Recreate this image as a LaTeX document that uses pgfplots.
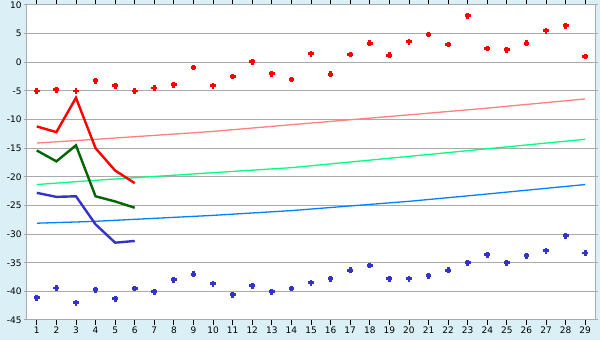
\documentclass[border=0pt]{standalone}
\usepackage{pgfplots}
\pgfplotsset{compat=1.18}
\usepackage{fontspec}
\setmainfont{DejaVu Sans}
\definecolor{bgc}{RGB}{218,240,246}
\definecolor{gridc}{RGB}{170,170,170}
\definecolor{redc}{RGB}{255,0,0}
\definecolor{dgreen}{RGB}{0,102,0}
\definecolor{bluec}{RGB}{51,51,204}
\definecolor{pinkc}{RGB}{255,128,128}
\definecolor{sgreen}{RGB}{0,255,128}
\definecolor{lblue}{RGB}{0,128,255}
\begin{document}
\begin{tikzpicture}[x=1pt,y=1pt]
\fill[bgc] (0,0) rectangle (600,340);
\useasboundingbox (0,0) rectangle (600,340);
\begin{axis}[
  at={(27pt,20pt)}, anchor=south west,
  scale only axis, width=568pt, height=315pt,
  xmin=0.5, xmax=29.5, ymin=-45, ymax=10,
  axis background/.style={fill=white},
  axis line style={gridc, line width=1pt},
  xtick={1,...,29},
  ytick={-45,-40,...,10},
  yticklabels={-45,-40,-35,-30,-25,-20,-15,-10,-5,0,5,10},
  ymajorgrids,
  major grid style={gridc, line width=1pt},
  tick align=outside,
  xtick style={black, line width=0.8pt, /pgfplots/major tick length=5pt},
  ytick style={gridc, line width=1pt, /pgfplots/major tick length=3pt},
  tick label style={font=\fontsize{9}{10}\selectfont, black},
  /pgf/number format/assume math mode=true,
  yticklabel style={inner sep=1pt},
  xticklabel style={inner sep=1pt, yshift=-1pt},
  clip=false,
]
% thin trend lines
\addplot[pinkc, line width=1.3pt] coordinates {(1,-14.1) (3.8,-13.5) (9.9,-12.1) (14,-10.9) (20.1,-9.15) (23.7,-8.1) (29,-6.4)};
\addplot[sgreen, line width=1.3pt] coordinates {(1,-21.35) (3.8,-20.65) (9.9,-19.3) (14,-18.4) (20.1,-16.4) (23.7,-15.2) (29,-13.45)};
\addplot[lblue, line width=1.3pt] coordinates {(1,-28.1) (3.8,-27.8) (9.9,-26.75) (14,-25.9) (20.1,-24.25) (23.7,-23.1) (29,-21.35)};
% thick lines
\addplot[redc, line width=2.4pt] coordinates {(1,-11.2) (2,-12.2) (3,-6.2) (4,-15.0) (5,-18.9) (6,-21.1)};
\addplot[dgreen, line width=2.4pt] coordinates {(1,-15.4) (2,-17.3) (3,-14.5) (4,-23.4) (5,-24.3) (6,-25.4)};
\addplot[bluec, line width=2.4pt] coordinates {(1,-22.8) (2,-23.5) (3,-23.4) (4,-28.3) (5,-31.5) (6,-31.2)};
% points
\addplot[only marks, mark=+, mark size=2.9pt, mark options={redc, line width=2.8pt}] coordinates {
(1,-5.0) (2,-4.8) (3,-5.0) (4,-3.25) (5,-4.1) (6,-5.0) (7,-4.5) (8,-3.9) (9,-0.9)
(10,-4.1) (11,-2.5) (12,0.1) (13,-2.0) (14,-3.0) (15,1.5) (16,-2.1) (17,1.35) (18,3.3) (19,1.2)
(20,3.6) (21,4.85) (22,3.1) (23,8.1) (24,2.4) (25,2.2) (26,3.3) (27,5.5) (28,6.4) (29,1.0)};
\addplot[only marks, mark=+, mark size=2.9pt, mark options={bluec, line width=2.8pt}] coordinates {
(1,-41.1) (2,-39.4) (3,-42.0) (4,-39.7) (5,-41.3) (6,-39.5) (7,-40.05) (8,-37.95) (9,-37.0)
(10,-38.65) (11,-40.6) (12,-39.0) (13,-40.05) (14,-39.5) (15,-38.5) (16,-37.8) (17,-36.3) (18,-35.5) (19,-37.8)
(20,-37.8) (21,-37.25) (22,-36.3) (23,-35.0) (24,-33.6) (25,-35.0) (26,-33.8) (27,-32.9) (28,-30.3) (29,-33.3)};
\end{axis}
\end{tikzpicture}
\end{document}
